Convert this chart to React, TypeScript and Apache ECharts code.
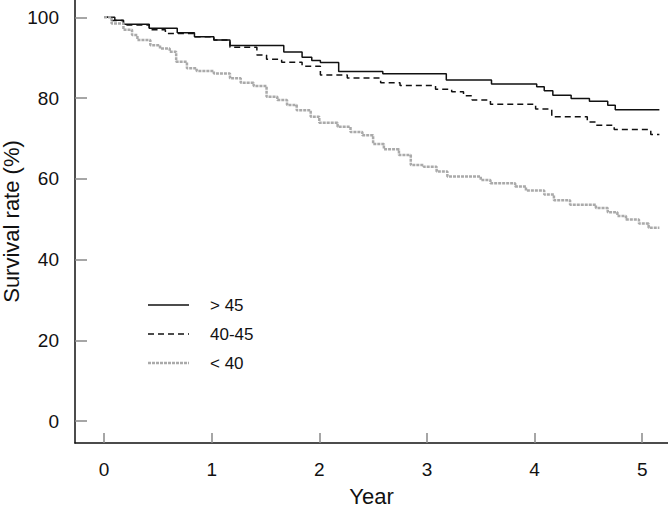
import React, { useEffect, useRef } from "react";
import * as echarts from "echarts";

const xTicks = [0, 1, 2, 3, 4, 5];
const yTicks = [0, 20, 40, 60, 80, 100];
const seriesNames = ["> 45", "40-45", "< 40"];

const over45Times = [0, 0.10, 0.18, 0.42, 0.68, 0.84, 1.02, 1.17, 1.67, 1.84, 1.93, 2.01, 2.18, 2.59, 3.18, 3.60, 4.02, 4.09, 4.17, 4.34, 4.51, 4.68, 4.75, 5.16];
const over45Values = [100, 99.3, 98.3, 97.3, 96.2, 95.2, 94.4, 93.0, 91.4, 90.1, 89.3, 88.8, 86.6, 86.0, 84.5, 83.5, 82.8, 81.8, 80.7, 79.9, 79.2, 78.2, 77.1, 77.1];

const mid4045Times = [0, 0.07, 0.18, 0.42, 0.57, 0.84, 1.02, 1.17, 1.42, 1.51, 1.65, 1.84, 2.01, 2.26, 2.57, 2.75, 3.08, 3.23, 3.34, 3.42, 3.59, 4.01, 4.16, 4.49, 4.57, 4.74, 5.08, 5.16];
const mid4045Values = [100, 99.2, 98.1, 96.9, 96.0, 95.2, 94.4, 92.6, 90.7, 89.6, 88.9, 87.9, 85.7, 85.0, 83.8, 83.1, 82.2, 81.6, 80.6, 79.5, 78.5, 77.3, 75.4, 74.1, 73.3, 72.2, 71.0, 71.0];

const under40Times = [0, 0.07, 0.18, 0.26, 0.31, 0.43, 0.52, 0.61, 0.67, 0.77, 0.86, 1.02, 1.17, 1.27, 1.39, 1.51, 1.61, 1.70, 1.79, 1.92, 2.00, 2.17, 2.29, 2.40, 2.50, 2.60, 2.74, 2.85, 2.97, 3.09, 3.19, 3.50, 3.59, 3.82, 3.92, 4.09, 4.18, 4.33, 4.57, 4.68, 4.77, 4.85, 4.97, 5.06, 5.16];
const under40Values = [100, 98.5, 96.9, 95.6, 94.4, 93.1, 92.3, 91.5, 89.0, 87.4, 86.7, 86.1, 84.9, 83.8, 83.0, 80.3, 79.5, 78.3, 77.0, 75.4, 73.9, 72.9, 71.6, 70.8, 68.6, 67.3, 65.9, 63.4, 63.0, 61.8, 60.6, 59.7, 58.9, 58.1, 57.1, 56.1, 54.7, 53.6, 52.8, 51.7, 50.8, 49.9, 48.9, 47.9, 47.9];

const pairs = (t: number[], v: number[]) => t.map((x, i) => [x, v[i]]);

const lineStyles = [
  { color: "#111", width: 1.5, dash: null as number[] | null },
  { color: "#111", width: 1.5, dash: [6, 4] },
  { color: "#aaaaaa", width: 2.5, dash: [3, 1] },
];

export default function App() {
  const ref = useRef<HTMLDivElement>(null);
  useEffect(() => {
    const chart = echarts.init(ref.current!, null, { renderer: "svg" });
    const font = "'Liberation Sans', Arial, Helvetica, sans-serif";
    const legendGraphics: any[] = [];
    seriesNames.forEach((name, i) => {
      const y = 305 + i * 29;
      const ls = lineStyles[i];
      legendGraphics.push({
        type: "line",
        shape: { x1: 148, y1: y, x2: 189, y2: y },
        style: { stroke: ls.color, lineWidth: ls.width, lineDash: ls.dash || undefined },
      });
      legendGraphics.push({
        type: "text",
        x: 210,
        y,
        style: { text: name, fontFamily: font, fontSize: 17, fill: "#111", verticalAlign: "middle", align: "left" },
      });
    });
    chart.setOption({
      animation: false,
      backgroundColor: "#fff",
      grid: { left: 75, right: 0, top: 0, bottom: 68, containLabel: false, outerBoundsMode: "none" },
      graphic: legendGraphics,
      xAxis: {
        type: "value",
        min: -0.27,
        max: 5.24,
        splitLine: { show: false },
        axisLine: { show: true, onZero: false, lineStyle: { color: "#111", width: 1.5 } },
        axisTick: { show: true, inside: true, length: 10, customValues: xTicks, lineStyle: { color: "#888", width: 1.5 } },
        axisLabel: { customValues: xTicks, margin: 17, fontFamily: font, fontSize: 19, color: "#111" },
        name: "Year",
        nameLocation: "middle",
        nameGap: 42,
        nameMoveOverlap: false,
        nameTextStyle: { fontFamily: font, fontSize: 22, color: "#111" },
      },
      yAxis: {
        type: "value",
        min: -5.45,
        max: 104.3,
        splitLine: { show: false },
        axisLine: { show: true, onZero: false, lineStyle: { color: "#111", width: 1.5 } },
        axisTick: { show: true, inside: true, length: 12, customValues: yTicks, lineStyle: { color: "#888", width: 1.5 } },
        axisLabel: { customValues: yTicks, margin: 16, fontFamily: font, fontSize: 19, color: "#111" },
        name: "Survival rate (%)",
        nameLocation: "middle",
        nameGap: 53,
        nameMoveOverlap: false,
        nameTextStyle: { fontFamily: font, fontSize: 22, color: "#111" },
      },
      series: [
        {
          name: seriesNames[0],
          type: "line",
          step: "end",
          symbol: "none",
          data: pairs(over45Times, over45Values),
          lineStyle: { color: lineStyles[0].color, width: lineStyles[0].width, type: "solid" },
        },
        {
          name: seriesNames[1],
          type: "line",
          step: "end",
          symbol: "none",
          data: pairs(mid4045Times, mid4045Values),
          lineStyle: { color: lineStyles[1].color, width: lineStyles[1].width, type: lineStyles[1].dash },
        },
        {
          name: seriesNames[2],
          type: "line",
          step: "end",
          symbol: "none",
          data: pairs(under40Times, under40Values),
          lineStyle: { color: lineStyles[2].color, width: lineStyles[2].width, type: lineStyles[2].dash },
        },
      ],
    });
    return () => chart.dispose();
  }, []);
  return <div ref={ref} style={{ position: "fixed", left: 0, top: 0, width: 668, height: 511, background: "#fff" }} />;
}
